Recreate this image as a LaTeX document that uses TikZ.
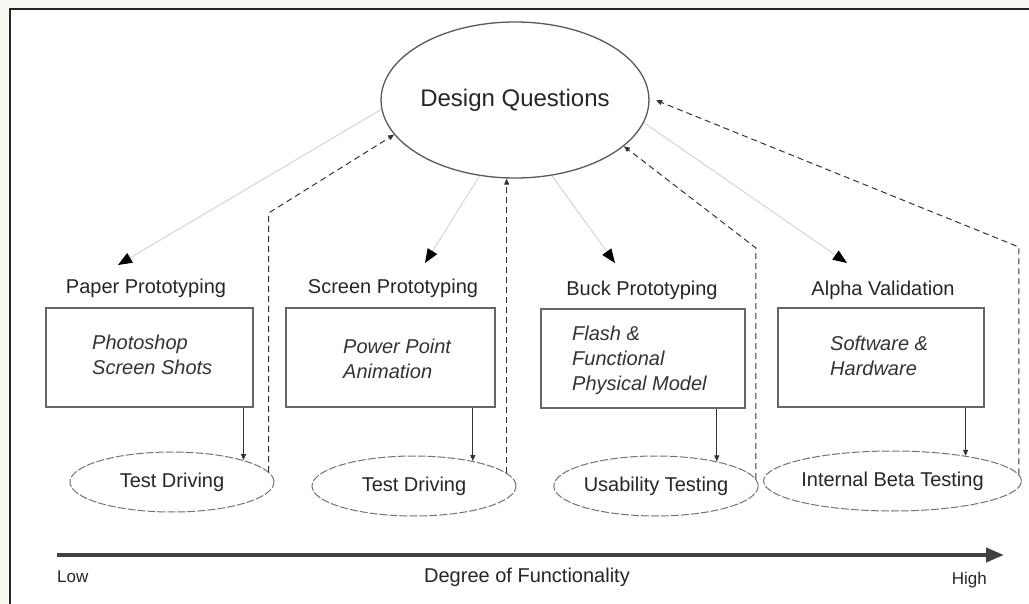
\documentclass[tikz,border=0pt]{standalone}
\usepackage{fontspec}
\setmainfont{Liberation Sans}
\usetikzlibrary{shapes.geometric,arrows.meta}
\definecolor{paper}{HTML}{FAF8F2}
\begin{document}
\begin{tikzpicture}[x=1pt,y=-1pt,
  lbl/.style={font=\fontsize{20}{24}\selectfont, text=black!85, inner sep=0},
  itx/.style={font=\fontsize{20}{25}\selectfont\itshape, align=left, anchor=west, inner sep=0, text=black!80},
  pbox/.style={draw=black!60, line width=1.3pt, minimum width=#1, minimum height=99pt, inner sep=0},
  test/.style={ellipse, draw=black!55, dash pattern=on 8pt off 2pt, line width=1pt, minimum width=#1, minimum height=60pt, inner sep=0, font=\fontsize{20}{24}\selectfont, text=black!85},
  fwd/.style={draw=black!18, line width=0.9pt, -{Triangle[length=14pt,width=11pt,color=black]}},
  ret/.style={draw=black!80, line width=1pt, dash pattern=on 6pt off 4pt, -{Triangle[length=6pt,width=5pt]}},
  down/.style={draw=black!80, line width=1pt, -{Triangle[length=6pt,width=5pt]}},
]
\useasboundingbox (0,0) rectangle (1029,604);
\fill[paper] (0,0) rectangle (1029,604);
\fill[white] (10,9) rectangle (1040,615);
\draw[line width=2.5pt, black!85] (10,615) -- (10,9) -- (1040,9);

% central ellipse
\node[ellipse, draw=black!65, line width=1.3pt, minimum width=240pt, minimum height=156pt, inner sep=0,
      font=\fontsize{24}{28}\selectfont, text=black!85] (dq) at (515,100) {Design Questions};

% stage labels
\node[lbl] (l1) at (146,288) {Paper Prototyping};
\node[lbl] (l2) at (393,288) {Screen Prototyping};
\node[lbl] (l3) at (642,290) {Buck Prototyping};
\node[lbl] (l4) at (883,290) {Alpha Validation};

% boxes
\node[pbox=207pt] (b1) at (149.5,357.5) {};
\node[pbox=209pt] (b2) at (390.5,357.5) {};
\node[pbox=204pt] (b3) at (643,358.5) {};
\node[pbox=206pt] (b4) at (881,357.5) {};
\node[itx] (t1) at (92,354.5) {Photoshop\\Screen Shots};
\node[itx] (t2) at (343,358.5) {Power Point\\Animation};
\node[itx] (t3) at (572,360) {Flash \&\\Functional\\Physical Model};
\node[itx] (t4) at (830,356) {Software \&\\Hardware};

% test ellipses
\node[test=204pt] (td1) at (172,482) {Test Driving};
\node[test=204pt] (td2) at (414,486) {Test Driving};
\node[test=204pt] (td3) at (656,486) {Usability Testing};
\node[test=210pt] (td4) at (892.5,481) {Internal Beta Testing};

% forward (light) arrows
\coordinate (e1) at (118,265);
\coordinate (e2) at (425,263);
\coordinate (e3) at (615,263);
\coordinate (e4) at (847,263);
\draw[fwd] (dq.184) -- (e1);
\draw[fwd] (dq.245) -- (e2);
\draw[fwd] (dq.296) -- (e3);
\draw[fwd] (dq.350) -- (e4);

% box to test arrows
\draw[down] (b1.south -| td1.17) -- (td1.17);
\draw[down] (b2.south -| td2.23) -- (td2.23);
\draw[down] (b3.south -| td3.22) -- (td3.22);
\draw[down] (b4.south -| td4.19) -- (td4.19);

% return dashed arrows
\coordinate (k1) at (268,213);
\coordinate (k3) at (755,248);
\coordinate (k4) at (997,247);
\draw[ret] (td1.6) -- (td1.6 |- k1) -- (dq.196);
\draw[ret] (td2.8) -- (td2.8 |- dq.south);
\draw[ret] (td3.4) -- (td3.4 |- k3) -- (dq.337);
\draw[ret, shorten >=7pt] (td4.3) -- (td4.3 |- k4) -- (dq.1);

% axis
\coordinate (ax0) at (57,555);
\coordinate (ax1) at (1004,555);
\draw[line width=4pt, black!75, -{Triangle[length=18pt,width=14pt]}] (ax0) -- (ax1);
\node[anchor=west, font=\fontsize{17}{20}\selectfont, text=black!85, inner sep=0] (low) at (57,577) {Low};
\node[lbl] (deg) at (527,577) {Degree of Functionality};
\node[anchor=east, font=\fontsize{17}{20}\selectfont, text=black!85, inner sep=0] (high) at (987,580) {High};
\end{tikzpicture}
\end{document}
